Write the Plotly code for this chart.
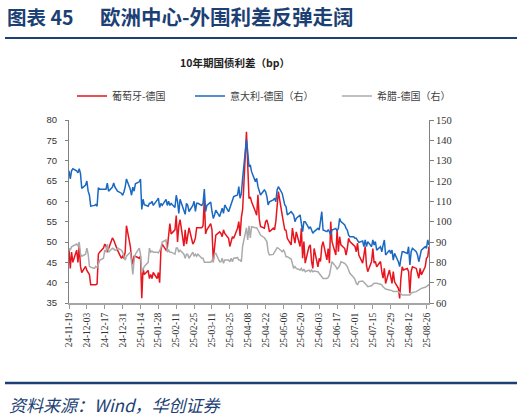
import pandas as pd
import plotly.graph_objects as go
from plotly.subplots import make_subplots

# trading days shown on the chart
dates = pd.bdate_range("2024-11-19", "2025-08-28")

# 葡萄牙-德国 (left axis, bp)
portugal = [48, 43.5, 47.5, 45, 48, 45, 49, 44, 42.5, 44,
            43, 42.5, 42, 39.5, 39.5, 39.5, 39.7, 47, 47.5, 48.5,
            49.5, 49, 47.5, 48.5, 51, 50.5, 49.5, 48.5, 48, 46,
            46.5, 46, 47.5, 54, 49, 46, 44.5, 46.5, 46.5, 46,
            46.5, 36.2, 43.5, 42, 43, 41, 42, 41, 42.5, 41,
            42.5, 40, 48, 49.5, 48, 48.5, 52.5, 54.5, 52, 53,
            56.5, 50, 54, 55.5, 49, 53, 49.5, 52, 53.5, 49.5,
            50, 51, 53.5, 53.5, 53.5, 54, 60.5, 52, 53, 54.5,
            53, 45.5, 49.3, 51.7, 52.5, 52.1, 51.3, 53, 52.1, 50.9,
            48.9, 50.1, 51.3, 50.9, 53.4, 55, 51.5, 56, 58, 77.1,
            69.8, 60.7, 61.1, 59.9, 57.5, 56.6, 61.6, 55.8, 53.8, 53.4,
            55, 55.4, 54.2, 52.5, 53.4, 53, 55, 59.1, 62.4, 56.6,
            55, 53, 52.9, 50.9, 49.3, 53.4, 51.3, 49.7, 52.5, 48.9,
            53.4, 46, 50.1, 44.8, 48.9, 49.3, 45.2, 43.5, 48.4, 43.9,
            46, 45.2, 48.9, 50.1, 45.6, 48.4, 44.8, 55, 50.1, 46.8,
            52.9, 47.6, 51.3, 49.3, 48.4, 46.8, 48.4, 50.9, 50.1, 49.3,
            48.9, 47.6, 49.7, 46.8, 44.8, 46.8, 48.9, 44.3, 42.7, 45.2,
            48.4, 44.8, 45.2, 43.9, 45.2, 42.7, 41.1, 43.5, 39.8, 43.1,
            41.1, 39.8, 42.7, 40.2, 38.6, 36.1, 41.1, 43.9, 43.1, 43.5,
            42.7, 37.4, 42.7, 43.9, 43.5, 42.3, 41.1, 43.5, 41.9, 43.9,
            46, 46.4, 48.9]

# 意大利-德国 (right axis, bp)
italy = [125, 121, 125, 126, 125, 124, 126, 123.6, 116.4, 118,
         120, 115, 113, 107.6, 108, 108.4, 107.6, 116.6, 116, 116,
         116, 116, 119, 115, 117, 119, 117, 116, 115, 114,
         113, 114.6, 117, 121, 116, 113, 117, 115, 118.6, 119.6,
         121, 106, 111, 108.4, 107.6, 109, 109, 110, 108, 110.6,
         111.6, 107, 109, 108, 111, 108, 110, 108, 109, 107,
         113, 110, 104, 111, 106, 103.6, 109, 108, 105, 108,
         110, 105, 109, 109, 108, 109, 116, 105, 108, 109.6,
         105, 101.6, 103.3, 105.7, 102.5, 104.9, 106.6, 104.1, 108.2, 104.9,
         106.6, 108.2, 110.7, 112.3, 113.1, 117.2, 111.5, 113.9, 121.3, 140.2,
         134.4, 127, 127.9, 124.6, 119.7, 121.3, 117.2, 114.8, 113.1, 115.6,
         114.8, 112.3, 108.2, 109.8, 110.7, 111.5, 109.8, 115.6, 117.2, 113.9,
         111.5, 108.2, 107.4, 103.3, 104.9, 104.1, 103.3, 100, 101.6, 103.3,
         97.5, 95.1, 100, 100, 96.7, 97.5, 95.9, 94.3, 95.1, 96.7,
         95.9, 100, 104.9, 95.9, 95.1, 95.9, 95.1, 93.4, 95.9, 96.7,
         95.4, 96.7, 101.6, 100, 98.4, 96.7, 95.9, 93.4, 92.6, 92.6,
         91.8, 91.8, 91, 89.8, 90.5, 87.7, 91, 87.7, 90.2, 87.7,
         91, 88.5, 90.2, 86, 87.7, 85.2, 88.5, 91, 83.6, 86,
         84.4, 86, 81.1, 84.4, 80.3, 77.9, 82, 85.2, 85.2, 84.4,
         87.7, 78.7, 85.2, 86.9, 85.2, 83.6, 80.3, 83.6, 86, 87.7,
         86.9, 91, 88.5]

# 希腊-德国 (right axis, bp)
greece = [87, 86, 87.6, 88, 89, 88, 90, 84, 83, 84,
          87, 84, 78, 77.6, 77, 78, 77.6, 79, 81, 82,
          86, 85, 89, 85, 87, 86.6, 86, 86, 87, 86,
          85, 83, 81, 83, 85, 80, 74, 81, 84, 87,
          84, 75, 77, 78, 80, 87, 85, 85.6, 85, 85,
          84.6, 85.6, 87, 90, 91, 85, 86, 85, 85, 84,
          87, 87, 85, 86, 84, 82, 84, 84, 82, 85,
          83, 84, 83, 84, 82, 82, 80, 80, 80, 80,
          81, 80, 84, 84.4, 80.3, 80.3, 82, 79.5, 81.1, 81.1,
          80.3, 82, 80.3, 82, 82.3, 81.1, 81.1, 80.3, 88, 97,
          91, 98, 92, 97.5, 97, 97, 95.9, 94.8, 93.4, 92.1,
          91, 90.2, 85.2, 83.6, 83.9, 84.9, 85.6, 87.2, 86.9, 85.2,
          86, 84.9, 82.8, 82.8, 81.6, 78.4, 77, 77.9, 77, 76.2,
          77, 75.7, 76.7, 75.4, 76.2, 75.4, 76.2, 75.4, 75.7, 75.4,
          74.6, 73.8, 73, 72.1, 72.1, 72.5, 73.8, 77, 80.3, 77.9,
          76.7, 77.4, 78.4, 80.3, 79.5, 78.7, 77.9, 76.2, 74.6, 72.5,
          71.6, 69.7, 68.9, 70.5, 70.8, 70.2, 69.7, 68.9, 68, 68.5,
          69.2, 69.7, 69.7, 69.7, 69.2, 68.9, 68, 67.2, 66.9, 66.4,
          66.4, 66.1, 65.6, 65.6, 65.6, 65.1, 64.4, 63.9, 63.9, 63.9,
          63.9, 63.9, 64.8, 65.2, 65.6, 66.1, 66.4, 66.9, 67.2, 67.7,
          68, 68.5, 69.2]

tick_dates = pd.date_range("2024-11-19", "2025-08-26", freq="14D")

NAVY = "#1C3F74"
CJK = "Noto Sans CJK SC"

# pixel positions in the 524x418 page; plot area x 69..452, y 120..303
def px(x):
    return (x - 69) / 383.0

def py(y):
    return (303 - y) / 183.0

fig = make_subplots(specs=[[{"secondary_y": True}]])

fig.add_trace(go.Scatter(x      = dates,
                         y      = italy,
                         mode   = "lines",
                         line   = {"width": 1.5, "color": "#1A68C2"},
                         name   = "意大利-德国（右）",
                         legend = "legend2"),
              secondary_y = True)
fig.add_trace(go.Scatter(x      = dates,
                         y      = greece,
                         mode   = "lines",
                         line   = {"width": 1.5, "color": "#ABABAB"},
                         name   = "希腊-德国（右）",
                         legend = "legend3"),
              secondary_y = True)
fig.add_trace(go.Scatter(x      = dates,
                         y      = portugal,
                         mode   = "lines",
                         line   = {"width": 1.5, "color": "#E8141E"},
                         name   = "葡萄牙-德国",
                         legend = "legend"),
              secondary_y = False)

legend_style = {"orientation": "h", "yanchor": "middle", "xanchor": "left",
                "y": py(96), "font": {"family": CJK, "size": 10, "color": "#404040"},
                "bgcolor": "rgba(0,0,0,0)", "itemwidth": 30}

fig.update_layout(width         = 524,
                  height        = 418,
                  margin        = {"l": 69, "r": 72, "t": 120, "b": 115},
                  plot_bgcolor  = "white",
                  paper_bgcolor = "white",
                  showlegend    = True,
                  legend        = dict(legend_style, x=px(72)),
                  legend2       = dict(legend_style, x=px(190)),
                  legend3       = dict(legend_style, x=px(337)))

fig.update_xaxes(type        = "date",
                 range       = [dates[0], dates[-1]],
                 tickvals    = tick_dates,
                 tickformat  = "%y-%m-%d",
                 tickangle   = -90,
                 ticks       = "outside",
                 ticklen     = 4,
                 tickcolor   = "#999999",
                 showline    = True,
                 linecolor   = "#A6A6A6",
                 linewidth   = 2,
                 showgrid    = False,
                 tickfont    = {"family": "Liberation Serif", "size": 9.5, "color": "#333333"})

fig.update_yaxes(range      = [35, 80],
                 dtick      = 5,
                 ticks      = "outside",
                 ticklen    = 3,
                 tickcolor  = "#808080",
                 ticklabelstandoff = 6,
                 showline   = True,
                 linecolor  = "#808080",
                 linewidth  = 1,
                 showgrid   = False,
                 zeroline   = False,
                 tickfont   = {"family": "Liberation Sans", "size": 9.5, "color": "#333333"},
                 secondary_y = False)

fig.update_yaxes(range      = [60, 150],
                 dtick      = 10,
                 ticks      = "outside",
                 ticklen    = 4,
                 tickcolor  = "#808080",
                 showline   = True,
                 linecolor  = "#808080",
                 linewidth  = 1,
                 showgrid   = False,
                 zeroline   = False,
                 tickfont   = {"family": "Liberation Serif", "size": 10.5, "color": "#333333"},
                 secondary_y = True)

# header / footer rules
for yy, w in ((38, 2), (383, 2.5)):
    fig.add_shape(type="line", xref="paper", yref="paper",
                  x0=px(5), x1=px(517), y0=py(yy), y1=py(yy),
                  line={"color": NAVY, "width": w})

fig.add_annotation(text="<b>图表 45</b>", xref="paper", yref="paper",
                   x=px(6), y=py(16), xanchor="left", yanchor="middle",
                   showarrow=False, borderpad=0,
                   font={"family": CJK, "size": 19.5, "color": NAVY})
fig.add_annotation(text="<b>欧洲中心-外围利差反弹走阔</b>", xref="paper", yref="paper",
                   x=px(99), y=py(16), xanchor="left", yanchor="middle",
                   showarrow=False, borderpad=0,
                   font={"family": CJK, "size": 20.5, "color": NAVY})
fig.add_annotation(text="<b>10年期国债利差（bp）</b>", xref="paper", yref="paper",
                   x=px(235), y=py(62), xanchor="center", yanchor="middle",
                   showarrow=False, font={"family": CJK, "size": 10.5, "color": "#222222"})
fig.add_annotation(text="<i>资料来源：Wind，华创证券</i>", xref="paper", yref="paper",
                   x=px(7), y=py(404), xanchor="left", yanchor="middle",
                   showarrow=False, font={"family": CJK, "size": 17, "color": NAVY})

# drop the default 8px page margin so the figure sits at the window corner
fig.write_html("out.html",
               config      = {"displayModeBar": False},
               post_script = "document.body.style.margin = '0';")
